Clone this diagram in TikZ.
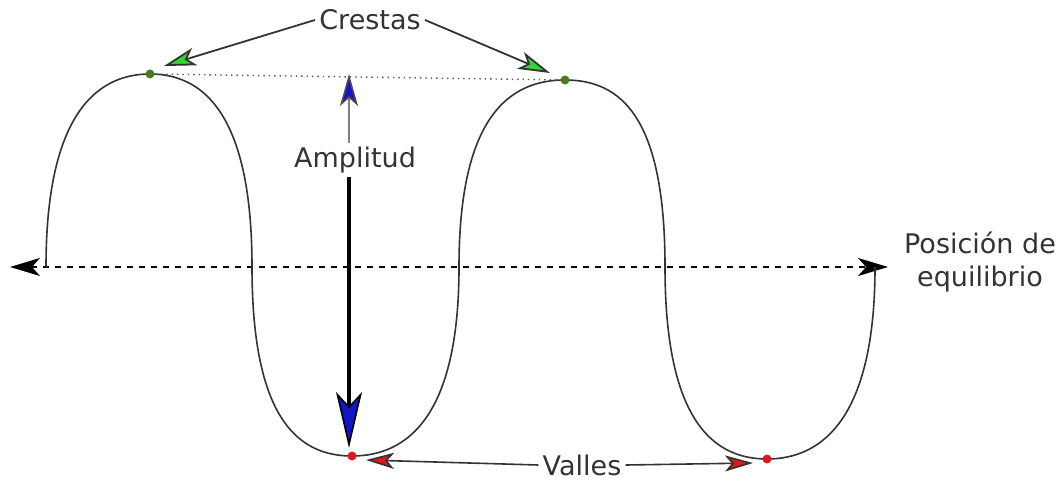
\documentclass[tikz,border=0pt]{standalone}
\usepackage{fontspec}
\setmainfont{DejaVu Sans}
\usetikzlibrary{arrows.meta}
\definecolor{crestGreen}{HTML}{33D633}
\definecolor{dotGreen}{HTML}{4D7A1E}
\definecolor{valleRed}{HTML}{E01818}
\definecolor{ampBlue}{HTML}{1414C8}
\definecolor{inkGray}{HTML}{333333}

\begin{document}
\begin{tikzpicture}[x=0.5pt, y=-0.5pt,
    lbl/.style={font=\fontsize{13.5}{16.5}\selectfont, text=inkGray, inner sep=2pt},
    crestarrow/.style={draw=inkGray, line width=0.9pt, -{Stealth[length=16pt, width=9pt, inset=4pt, fill=crestGreen]}},
    vallearrow/.style={draw=inkGray, line width=0.8pt, -{Stealth[length=14pt, width=8pt, inset=3.5pt, fill=valleRed]}},
    dot/.style={circle, inner sep=0pt, minimum size=4.5pt}]
\useasboundingbox (0,0) rectangle (1063,485);

% Axis
\coordinate (axl) at (10,267);
\coordinate (axr) at (888,267);
\draw[black, line width=0.8pt, dashed, {Stealth[length=15pt, width=9pt, inset=4pt]}-{Stealth[length=15pt, width=9pt, inset=4pt]}] (axl) -- (axr);
\node[lbl, align=center] (eq) at (980,262) {Posición de\\equilibrio};

% Wave
\coordinate (w0) at (46,267);
\coordinate (c1) at (150,74);
\coordinate (z1) at (252,267);
\coordinate (v1) at (352,456);
\coordinate (z2) at (459,267);
\coordinate (c2) at (565,80);
\coordinate (z3) at (665,267);
\coordinate (v2) at (767,459);
\coordinate (w5) at (875,267);
\draw[inkGray, line width=0.8pt]
  (w0) .. controls +(0,-150) and +(-55,0) .. (c1)
       .. controls +(55,0) and +(0,-150) .. (z1)
       .. controls +(0,150) and +(-55,0) .. (v1)
       .. controls +(55,0) and +(0,150) .. (z2)
       .. controls +(0,-150) and +(-56,0) .. (c2)
       .. controls +(56,0) and +(0,-150) .. (z3)
       .. controls +(0,150) and +(-56,0) .. (v2)
       .. controls +(56,0) and +(0,150) .. (w5);

% Crests and valleys
\draw[black!65, line width=0.7pt, dotted] (c1) -- (c2);
\node[dot, fill=dotGreen] (p1) at (c1) {};
\node[dot, fill=dotGreen] (p2) at (c2) {};
\node[dot, fill=valleRed] (q1) at (v1) {};
\node[dot, fill=valleRed] (q2) at (v2) {};

\node[lbl] (cr) at (370,20) {Crestas};
\coordinate (crl) at (164,66);
\coordinate (crr) at (550,73);
\draw[crestarrow] (cr.west) -- (crl);
\draw[crestarrow] (cr.east) -- (crr);

\node[lbl] (vl) at (582,465) {Valles};
\coordinate (vll) at (366,460);
\coordinate (vlr) at (753,463);
\draw[vallearrow] (vl.west) -- (vll);
\draw[vallearrow] (vl.east) -- (vlr);

% Amplitude
\node[lbl] (amp) at (355,160) {Amplitud};
\coordinate (atop) at (349,74);
\coordinate (abot) at (349,448);
\draw[gray, line width=0.8pt, -{Stealth[length=16pt, width=9pt, inset=4pt, fill=ampBlue, color=black!70]}] (atop |- amp.north) -- (atop);
\draw[black, line width=1.6pt, -{Stealth[length=28pt, width=13pt, inset=7pt, fill=ampBlue, line width=0.8pt]}] (abot |- amp.south) -- (abot);
\end{tikzpicture}
\end{document}
